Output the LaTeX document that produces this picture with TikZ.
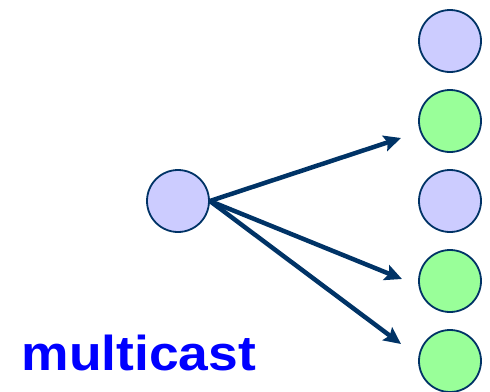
\documentclass[tikz,border=0pt]{standalone}
\usepackage{fontspec}
\setmainfont{Liberation Sans}
\usetikzlibrary{arrows.meta}
\definecolor{navy}{HTML}{003366}
\definecolor{lav}{HTML}{CCCCFF}
\definecolor{grn}{HTML}{99FF99}
\definecolor{txtblue}{HTML}{0000FF}
\tikzset{
  host/.style={circle, draw=navy, line width=1.8pt, minimum size=62pt, inner sep=0pt},
  lavhost/.style={host, fill=lav},
  grnhost/.style={host, fill=grn},
  flow/.style={draw=navy, line width=4.5pt, -{Stealth[length=17pt,width=16pt,inset=3pt]}}
}
\begin{document}
\begin{tikzpicture}[x=1pt,y=-1pt]
\useasboundingbox (0,0) rectangle (490,391);
\node[lavhost] (src) at (178,201) {};
\node[lavhost] (r1) at (450,41) {};
\node[grnhost] (r2) at (450,121) {};
\node[lavhost] (r3) at (450,201) {};
\node[grnhost] (r4) at (450,281) {};
\node[grnhost] (r5) at (450,361) {};
\coordinate (t2) at (401,138);
\coordinate (t4) at (402,279);
\coordinate (t5) at (401,344);
\draw[flow] (src.east) -- (t2);
\draw[flow] (src.east) -- (t4);
\draw[flow] (src.east) -- (t5);
\node[anchor=base west, inner sep=0pt, text=txtblue, font=\bfseries\fontsize{49}{49}\selectfont] (lbl) at (21.5,370) {\scalebox{1.09}[1]{multicast}};
\end{tikzpicture}
\end{document}
